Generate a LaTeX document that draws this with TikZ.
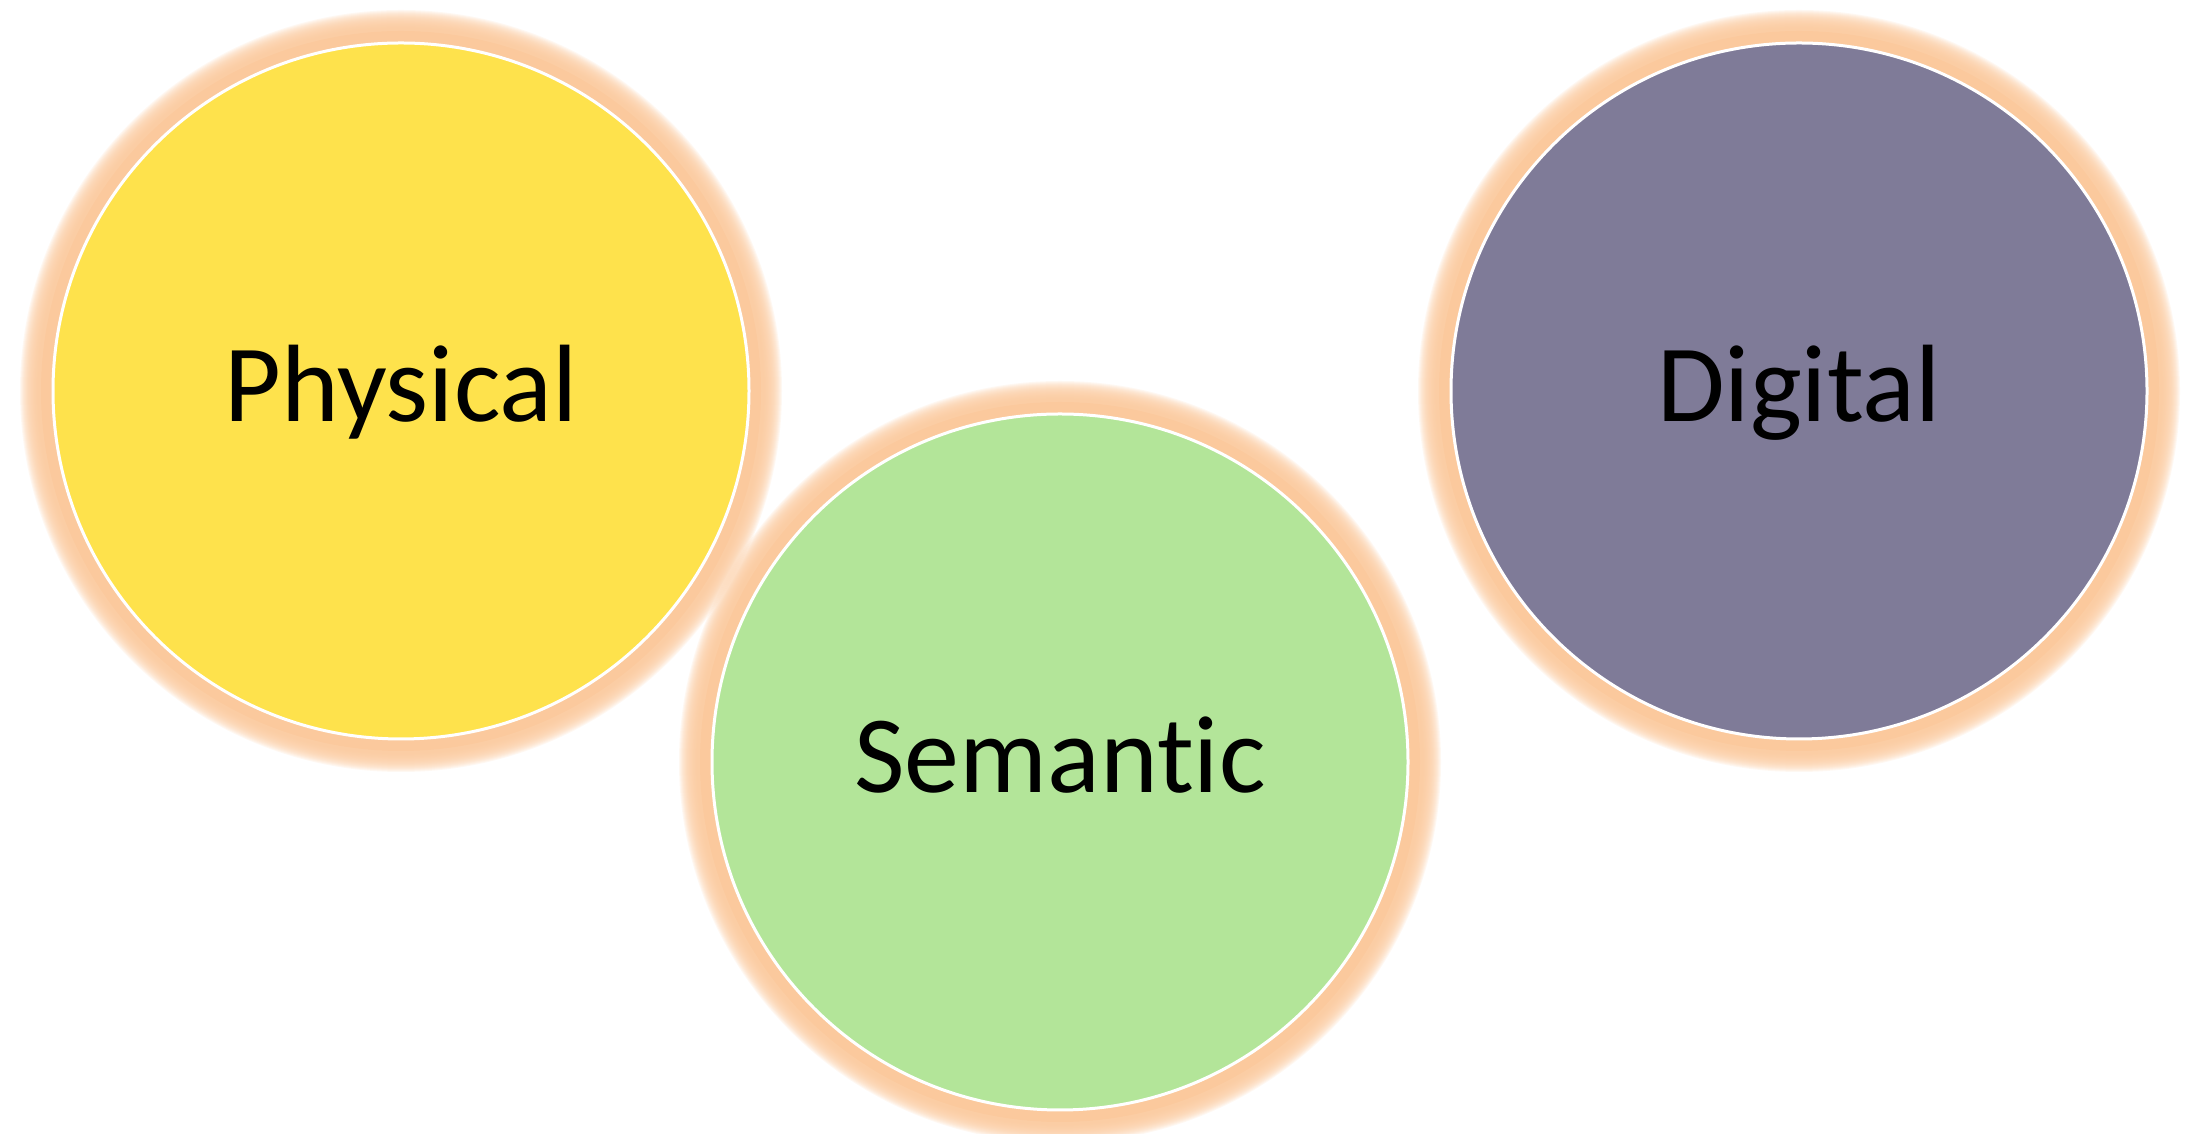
\documentclass[tikz,border=0pt]{standalone}
\usepackage{fontspec}
\setmainfont{Carlito}[Ligatures=NoCommon]
\usepackage{tikz}
\usetikzlibrary{positioning}
\definecolor{sunyellow}{RGB}{254,226,76}
\definecolor{leafgreen}{RGB}{179,229,153}
\definecolor{dusk}{RGB}{127,123,152}
\definecolor{peach}{RGB}{251,201,157}

\begin{document}
\begin{tikzpicture}[
x=1pt, y=1pt,
bubble/.style={circle, draw=white, line width=3pt, minimum size=696pt, inner sep=0pt, text height=62pt, text depth=0pt, font=\fontsize{110}{120}\selectfont, text=black},
glow/.style={fill=peach, opacity=0.13}
]
\useasboundingbox (0,0) rectangle (2193,1134);
\coordinate (pc) at (401,743);
\coordinate (sc) at (1060,372);
\coordinate (dc) at (1799,743);
% soft halo behind each circle
\foreach \c in {pc,sc,dc}{
  \foreach \k in {0,...,18}
    \fill[glow] (\c) circle ({381-\k});
  \fill[peach] (\c) circle (360);
}
\node[bubble, fill=sunyellow] (physical) at (pc) {Physical};
\node[bubble, fill=leafgreen] (semantic) at (sc) {Semantic};
\node[bubble, fill=dusk] (digital) at (dc) {Digital};
\end{tikzpicture}
\end{document}
